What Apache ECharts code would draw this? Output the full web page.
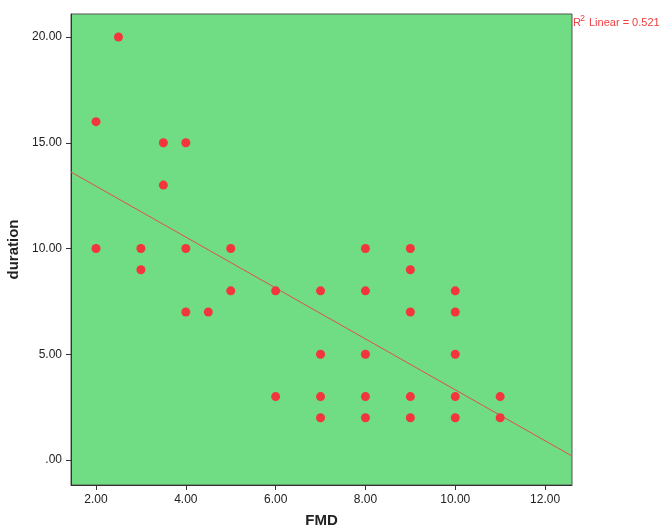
<!DOCTYPE html>
<html><head><meta charset="utf-8">
<script src="https://cdn.jsdelivr.net/npm/echarts@6/dist/echarts.min.js"></script>
<style>html,body{margin:0;padding:0;background:#fff}#c{width:664px;height:530px}</style>
</head><body><div id="c"></div>
<script>
const fmd = [2,2,2.5,3,3,3.5,3.5,4,4,4,4.5,5,5,6,6,7,7,7,7,8,8,8,8,8,9,9,9,9,9,10,10,10,10,10,11,11];
const duration = [16,10,20,10,9,15,13,15,10,7,7,10,8,8,3,8,5,3,2,10,8,5,3,2,10,9,7,3,2,8,7,5,3,2,3,2];
const xTicks = [2,4,6,8,10,12];
const yTicks = [0,5,10,15,20];
const fitLine = [[1.443, 13.62],[12.6, 0.19]];

const chart = echarts.init(document.getElementById('c'));
const font = 'Liberation Sans, Arial, sans-serif';
chart.setOption({
  animation:false,
  grid:{left:71, top:14, right:92, bottom:45, outerBoundsMode:'none', containLabel:false, show:true, backgroundColor:'#70DC84', borderColor:'#555', borderWidth:1},
  xAxis:{type:'value', min:1.443, max:12.6, name:'FMD', nameLocation:'middle', nameGap:28,
    nameTextStyle:{fontFamily:font,fontWeight:'bold',fontSize:15,color:'#222'},
    splitLine:{show:false},
    axisLine:{show:true, onZero:false, lineStyle:{color:'#333'}},
    axisTick:{show:true, inside:false, length:5, lineStyle:{color:'#333'}, customValues:xTicks},
    axisLabel:{customValues:xTicks, margin:9, fontFamily:font, fontSize:12, color:'#222', formatter:v=>v.toFixed(2)}
  },
  yAxis:{type:'value', min:-1.18, max:21.09, name:'duration', nameLocation:'middle', nameGap:43,
    nameTextStyle:{fontFamily:font,fontWeight:'bold',fontSize:15,color:'#222'},
    splitLine:{show:false},
    axisLine:{show:true, onZero:false, lineStyle:{color:'#333'}},
    axisTick:{show:true, inside:false, length:5, lineStyle:{color:'#333'}, customValues:yTicks},
    axisLabel:{customValues:yTicks, margin:9, fontFamily:font, fontSize:12, color:'#222', formatter:v=>v===0?'.00':v.toFixed(2)}
  },
  series:[
    {type:'line', data:fitLine, symbol:'none', silent:true, lineStyle:{color:'#E0504A', width:1}, z:1},
    {type:'scatter', data:fmd.map((x,i)=>[x,duration[i]]), symbolSize:9, itemStyle:{color:'#F2363B', opacity:1}, z:2}
  ],
  graphic:[
    {type:'text', left:573, top:17, style:{text:'R', fill:'#F04040', fontFamily:font, fontSize:11}},
    {type:'text', left:580, top:14, style:{text:'2', fill:'#F04040', fontFamily:font, fontSize:9}},
    {type:'text', left:589, top:17, style:{text:'Linear = 0.521', fill:'#F04040', fontFamily:font, fontSize:11}}]
});
</script></body></html>
